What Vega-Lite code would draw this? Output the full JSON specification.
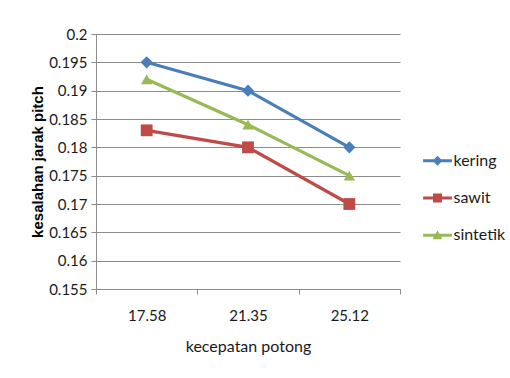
{
  "$schema": "https://vega.github.io/schema/vega-lite/v6.json",
  "width": 304,
  "height": 255,
  "autosize": {"type": "none"},
  "padding": {"left": 96, "top": 34, "right": 110, "bottom": 89},
  "background": "white",
  "config": {
    "view": {"stroke": null},
    "font": "Lato",
    "axis": {
      "labelFont": "Lato",
      "labelFontSize": 15,
      "labelColor": "#1a1a1a",
      "domainColor": "#8c8c8c",
      "tickColor": "#8c8c8c",
      "gridColor": "#8c8c8c",
      "gridOpacity": 1,
      "domainWidth": 1,
      "tickWidth": 1,
      "gridWidth": 1,
      "tickSize": 5
    },
    "legend": {
      "labelFont": "Lato",
      "labelFontSize": 16,
      "labelColor": "#1a1a1a"
    }
  },
  "data": {
    "values": [
      {"kecepatan": "17.58", "seri": "kering", "nilai": 0.195},
      {"kecepatan": "21.35", "seri": "kering", "nilai": 0.190},
      {"kecepatan": "25.12", "seri": "kering", "nilai": 0.180},
      {"kecepatan": "17.58", "seri": "sawit", "nilai": 0.183},
      {"kecepatan": "21.35", "seri": "sawit", "nilai": 0.180},
      {"kecepatan": "25.12", "seri": "sawit", "nilai": 0.170},
      {"kecepatan": "17.58", "seri": "sintetik", "nilai": 0.192},
      {"kecepatan": "21.35", "seri": "sintetik", "nilai": 0.184},
      {"kecepatan": "25.12", "seri": "sintetik", "nilai": 0.175}
    ]
  },
  "encoding": {
    "x": {
      "field": "kecepatan",
      "type": "nominal",
      "sort": ["17.58", "21.35", "25.12"],
      "scale": {"type": "band", "paddingInner": 0, "paddingOuter": 0},
      "axis": {
        "title": "kecepatan potong",
        "titleFont": "Lato",
        "titleFontSize": 16,
        "titleFontWeight": "normal",
        "titleColor": "#1a1a1a",
        "titlePadding": 15,
        "labelAngle": 0,
        "labelPadding": 14,
        "tickBand": "extent",
        "grid": false
      }
    },
    "y": {
      "field": "nilai",
      "type": "quantitative",
      "scale": {"domain": [0.155, 0.2], "nice": false, "zero": false},
      "axis": {
        "title": "kesalahan jarak pitch",
        "titleFont": "Liberation Sans",
        "titleFontSize": 15,
        "titleFontWeight": "bold",
        "titleColor": "#000000",
        "titlePadding": 3,
        "values": [0.155, 0.16, 0.165, 0.17, 0.175, 0.18, 0.185, 0.19, 0.195, 0.2],
        "format": "~g",
        "labelPadding": 4,
        "grid": true
      }
    },
    "color": {
      "field": "seri",
      "type": "nominal",
      "scale": {"domain": ["kering", "sawit", "sintetik"], "range": ["#4A7EBB", "#BE4B48", "#98B954"]},
      "legend": {
        "title": null,
        "orient": "none",
        "legendX": 332.5,
        "legendY": 117.7,
        "padding": 0,
        "symbolSize": 324,
        "symbolStrokeWidth": 0,
        "rowPadding": 20.3,
        "labelOffset": 7,
        "encode": {
          "symbols": {
            "update": {
              "fill": {"scale": "color", "field": "value"},
              "fillOpacity": {"value": 1},
              "opacity": {"value": 1},
              "strokeWidth": {"value": 0},
              "shape": {
                "signal": "datum.value === 'kering' ? 'M-1.6,-0.17H1.6V0.17H-1.6Z M0,-0.55L0.55,0L0,0.55L-0.55,0Z' : datum.value === 'sawit' ? 'M-1.6,-0.17H1.6V0.17H-1.6Z M-0.5,-0.5H0.5V0.5H-0.5Z' : 'M-1.6,-0.17H1.6V0.17H-1.6Z M0,-0.55L0.55,0.45H-0.55Z'"
              }
            }
          }
        }
      }
    }
  },
  "layer": [
    {
      "mark": {"type": "line", "strokeWidth": 3.2}
    },
    {
      "transform": [{"filter": "datum.seri === 'kering'"}],
      "mark": {"type": "point", "filled": true, "opacity": 1, "shape": "diamond", "size": 150}
    },
    {
      "transform": [{"filter": "datum.seri === 'sawit'"}],
      "mark": {"type": "point", "filled": true, "opacity": 1, "shape": "square", "size": 140}
    },
    {
      "transform": [{"filter": "datum.seri === 'sintetik'"}],
      "mark": {"type": "point", "filled": true, "opacity": 1, "shape": "triangle-up", "size": 130}
    }
  ]
}
